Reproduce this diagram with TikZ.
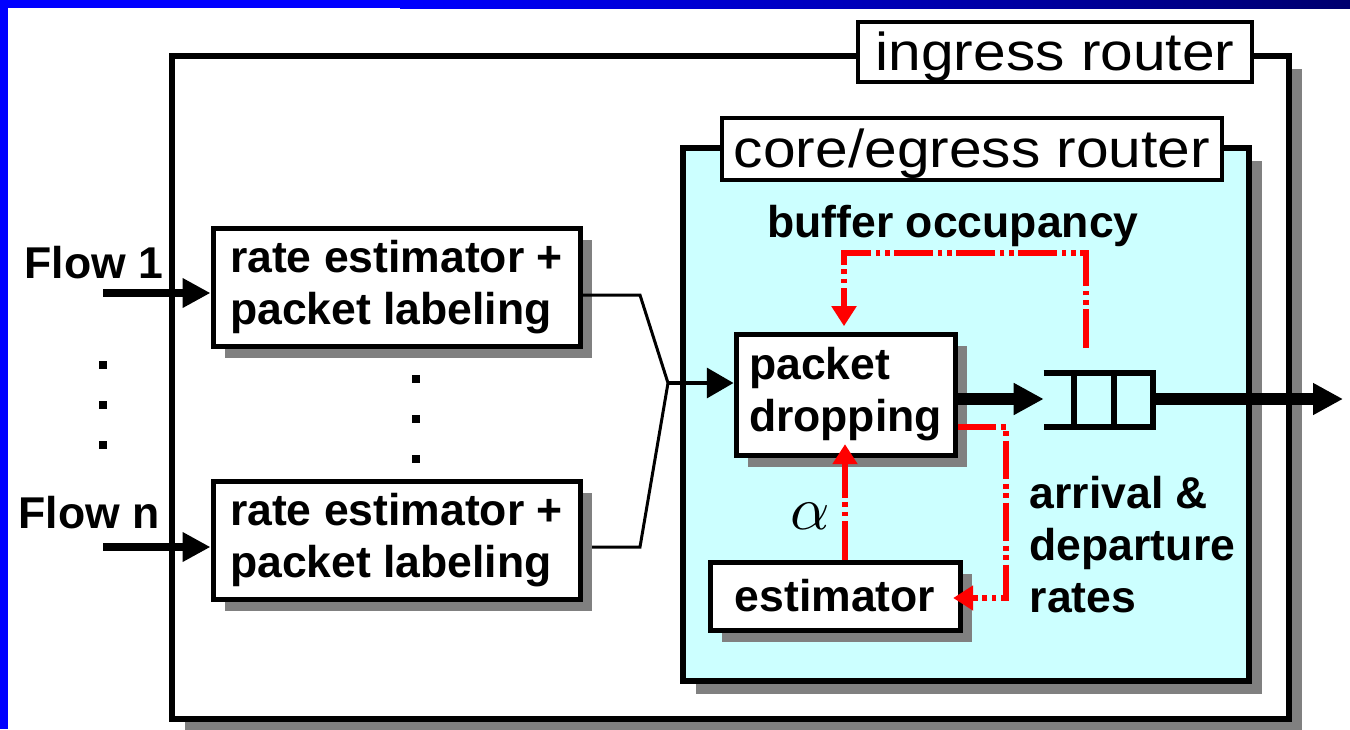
\documentclass[tikz,border=0pt]{standalone}
\usepackage{fontspec}
\setmainfont{Liberation Sans}
\newfontfamily\widesans[FakeStretch=1.1]{Liberation Sans}
\usetikzlibrary{arrows.meta,calc,shadows}
\definecolor{coreblue}{RGB}{204,255,255}
\definecolor{shadowgray}{RGB}{128,128,128}
\definecolor{slideblue}{RGB}{0,0,255}
\definecolor{slidenavy}{RGB}{0,0,110}
\definecolor{sigred}{RGB}{255,0,0}

\begin{document}
\begin{tikzpicture}[x=0.75pt,y=-0.75pt,
  boxtext/.style={font={\fontsize{33.4pt}{39pt}\selectfont\bfseries}},
  titletext/.style={font={\widesans\fontsize{40pt}{46pt}\selectfont},text height=30pt,text depth=3pt},
  shadowed/.style={drop shadow={shadow xshift=9pt,shadow yshift=-9pt,fill=shadowgray,opacity=1}},
  outerbox/.style={draw,line width=4.5pt,fill=white,inner sep=0pt,
    drop shadow={shadow xshift=10pt,shadow yshift=-10pt,fill=shadowgray,opacity=1}},
  corebox/.style={draw,line width=4.5pt,fill=coreblue,inner sep=0pt,
    drop shadow={shadow xshift=10pt,shadow yshift=-10pt,fill=shadowgray,opacity=1}},
  blockbox/.style={draw,line width=3.75pt,fill=white,inner sep=0pt,shadowed,boxtext,align=left},
  labelbox/.style={draw,line width=3.5pt,fill=white,inner sep=0pt,titletext},
  flowarrow/.style={line width=6.5pt,-{Triangle[length=21pt,width=21pt]}},
  feedarrow/.style={line width=2.5pt,-{Triangle[length=20pt,width=22.5pt]}},
  thickarrow/.style={line width=9pt,-{Triangle[length=22.5pt,width=22.5pt]}},
  mergeline/.style={line width=2.25pt},
  signal/.style={draw=sigred,line width=4.3pt,
    dash pattern=on 29pt off 3.5pt on 3.5pt off 3.5pt on 3.5pt off 3.5pt},
  signalarrow/.style={signal,-{Triangle[length=15pt,width=18pt,fill=sigred,sep=0pt]}},
  dotmark/.style={fill=black,inner sep=0pt,minimum size=6pt},
  queueline/.style={line width=4.5pt}
]
\useasboundingbox (0,0) rectangle (1350,729);
\fill[white] (0,0) rectangle (1350,729);

% routers
\node[outerbox,minimum width=837.75pt,minimum height=497.25pt] (ingress) at (730.5,387.5) {};
\node[labelbox,minimum width=295.5pt,minimum height=45pt] (inglabel) at (1055,52) {ingress router};
\node[corebox,minimum width=424.5pt,minimum height=399.75pt] (core) at (966,414.5) {};
\node[labelbox,minimum width=375pt,minimum height=46.5pt] (corelabel) at (972,149) {core/egress router};

% per-flow blocks
\node[blockbox,minimum width=275.25pt,minimum height=88.5pt] (r1) at (396.5,287) {rate estimator +\\packet labeling};
\node[blockbox,minimum width=275.25pt,minimum height=88.5pt] (r2) at (396.5,540) {rate estimator +\\packet labeling};

% core blocks
\node[blockbox,minimum width=164.25pt,minimum height=90.75pt] (pd) at (845.5,394.5) {packet\\dropping};
\node[blockbox,minimum width=187.5pt,minimum height=51pt] (est) at (835,596) {estimator};

% output queue
\node[inner sep=0pt,minimum width=81.75pt,minimum height=40.5pt] (q) at (1098.5,400) {};
\draw[queueline] (q.north west) -- (q.north east) -- (q.south east) -- (q.south west);
\draw[queueline] ($(q.north west)+(30,0)$) -- ($(q.south west)+(30,0)$);
\draw[queueline] ($(q.north west)+(70,0)$) -- ($(q.south west)+(70,0)$);

% flow labels and inputs
\node[boxtext] (flow1) at (94,263) {Flow 1};
\node[boxtext] (flown) at (89,513) {Flow n};
\coordinate (in1) at (103,293);
\coordinate (inn) at (103,547);
\draw[flowarrow] (in1) -- (r1.west |- in1);
\draw[flowarrow] (inn) -- (r2.west |- inn);

% ellipsis dots
\node[dotmark] (d1) at (103,365) {};
\node[dotmark] (d2) at (103,405) {};
\node[dotmark] (d3) at (103,445) {};
\node[dotmark] (d4) at (416,379) {};
\node[dotmark] (d5) at (416,419) {};
\node[dotmark] (d6) at (416,459) {};

% merge into packet dropping
\coordinate (m) at (668,383);
\draw[mergeline] (r1.east |- 0,295) -- (640,295) -- (m);
\draw[mergeline] (592,547) -- (640,547) -- (m);
\draw[feedarrow] (m) -- (pd.west |- m);

% data path
\coordinate (dp) at (955,399);
\coordinate (out) at (1343,399);
\draw[thickarrow] (pd.east |- dp) -- (q.west |- dp);
\draw[thickarrow] (q.east |- dp) -- (out);

% feedback signals
\coordinate (bq) at (1086,348);
\draw[signalarrow,shorten >=4pt] (bq) -- (1086,253) -- (844,253) -- (pd.north -| 844,0);
\draw[signalarrow,shorten >=-7pt] (pd.east |- 0,427) -- (1006,427) -- (1006,598) -- (est.east |- 0,598);
\draw[signalarrow,shorten >=-10pt] (est.north -| 845,0) -- (pd.south -| 845,0);

% signal labels
\node[boxtext] (buf) at (953,226) {buffer occupancy};
\node[boxtext,align=left,anchor=west] (rates) at (1025,545) {arrival \&\\departure\\rates};
\node[inner sep=0pt] (alpha) at (810,516) {\scalebox{4.6}{$\alpha$}};

% slide frame
\fill[slideblue] (0,0) rectangle (8,729);
\fill[slideblue] (0,0) rectangle (400,8);
\shade[left color=slideblue,right color=slidenavy] (400,0) rectangle (1350,8);
\end{tikzpicture}
\end{document}
